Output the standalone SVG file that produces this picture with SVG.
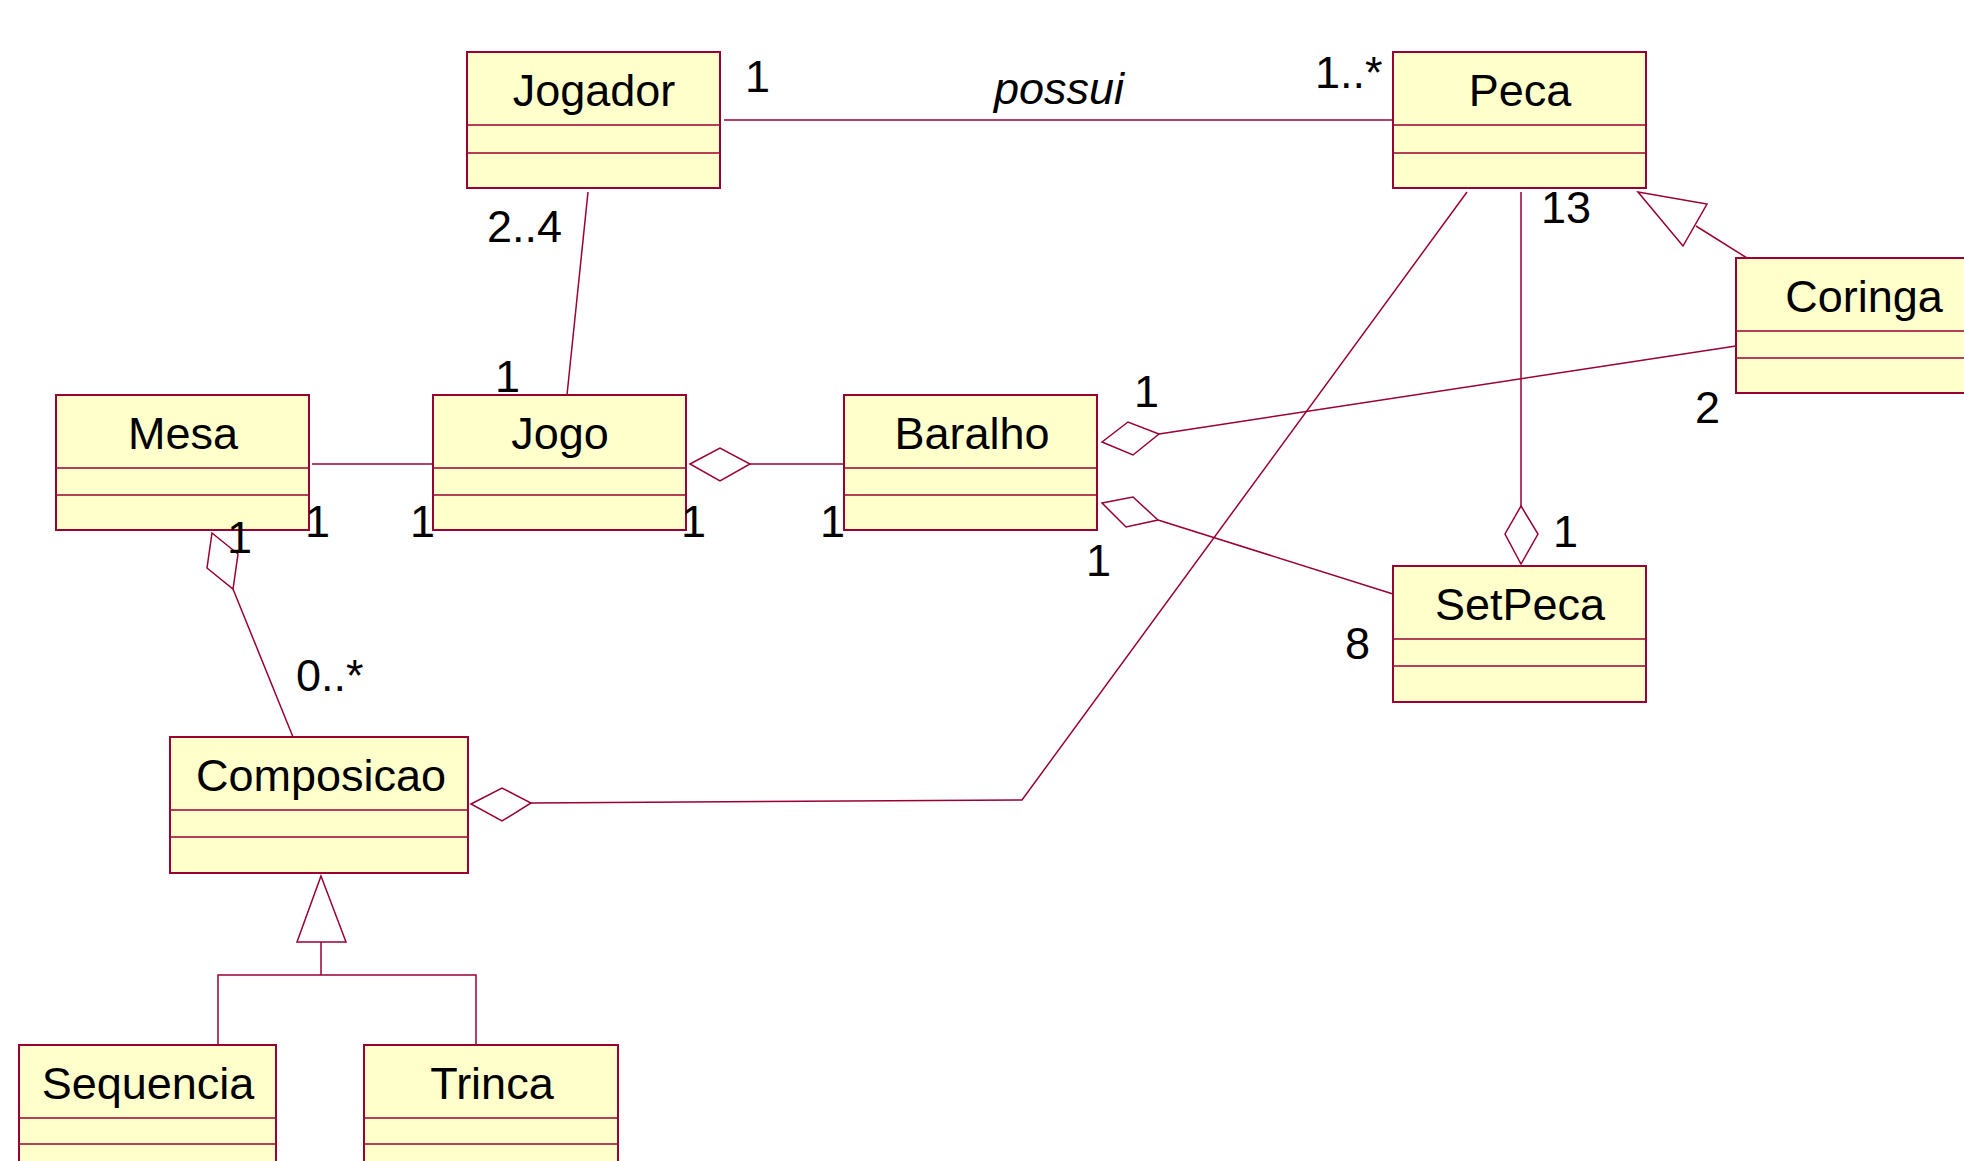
<svg xmlns="http://www.w3.org/2000/svg" width="1964" height="1161" viewBox="0 0 1964 1161">
  <style>
    .box { fill: #ffffcc; stroke: #990033; stroke-width: 2; }
    .sep { stroke: #990033; stroke-width: 1.5; }
    .name { font-family: "Liberation Sans", Arial, sans-serif; font-size: 45px; fill: #000; text-anchor: middle; }
    .mult { font-family: "Liberation Sans", Arial, sans-serif; font-size: 45px; fill: #000; }
    .role { font-family: "Liberation Sans", Arial, sans-serif; font-size: 45px; font-style: italic; fill: #000; }
    .conn { fill: none; stroke: #990033; stroke-width: 1.5; }
    .hollow { fill: #ffffff; stroke: #990033; stroke-width: 1.5; }
  </style>
  <rect width="1964" height="1161" fill="#ffffff"/>

  <!-- class boxes: name / attributes / operations -->
  <g id="Jogador">
    <rect class="box" x="467" y="52" width="253" height="136"/>
    <line class="sep" x1="467" y1="125" x2="720" y2="125"/>
    <line class="sep" x1="467" y1="153" x2="720" y2="153"/>
    <text class="name" x="594" y="106">Jogador</text>
  </g>
  <g id="Peca">
    <rect class="box" x="1393" y="52" width="253" height="136"/>
    <line class="sep" x1="1393" y1="125" x2="1646" y2="125"/>
    <line class="sep" x1="1393" y1="153" x2="1646" y2="153"/>
    <text class="name" x="1520" y="106">Peca</text>
  </g>
  <g id="Coringa">
    <rect class="box" x="1736" y="258" width="256" height="135"/>
    <line class="sep" x1="1736" y1="331" x2="1992" y2="331"/>
    <line class="sep" x1="1736" y1="358" x2="1992" y2="358"/>
    <text class="name" x="1864" y="312">Coringa</text>
  </g>
  <g id="Mesa">
    <rect class="box" x="56" y="395" width="253" height="135"/>
    <line class="sep" x1="56" y1="468" x2="309" y2="468"/>
    <line class="sep" x1="56" y1="495" x2="309" y2="495"/>
    <text class="name" x="183" y="449">Mesa</text>
  </g>
  <g id="Jogo">
    <rect class="box" x="433" y="395" width="253" height="135"/>
    <line class="sep" x1="433" y1="468" x2="686" y2="468"/>
    <line class="sep" x1="433" y1="495" x2="686" y2="495"/>
    <text class="name" x="560" y="449">Jogo</text>
  </g>
  <g id="Baralho">
    <rect class="box" x="844" y="395" width="253" height="135"/>
    <line class="sep" x1="844" y1="468" x2="1097" y2="468"/>
    <line class="sep" x1="844" y1="495" x2="1097" y2="495"/>
    <text class="name" x="972" y="449">Baralho</text>
  </g>
  <g id="SetPeca">
    <rect class="box" x="1393" y="566" width="253" height="136"/>
    <line class="sep" x1="1393" y1="639" x2="1646" y2="639"/>
    <line class="sep" x1="1393" y1="666" x2="1646" y2="666"/>
    <text class="name" x="1520" y="620">SetPeca</text>
  </g>
  <g id="Composicao">
    <rect class="box" x="170" y="737" width="298" height="136"/>
    <line class="sep" x1="170" y1="810" x2="468" y2="810"/>
    <line class="sep" x1="170" y1="837" x2="468" y2="837"/>
    <text class="name" x="321" y="791">Composicao</text>
  </g>
  <g id="Sequencia">
    <rect class="box" x="19" y="1045" width="257" height="136"/>
    <line class="sep" x1="19" y1="1118" x2="276" y2="1118"/>
    <line class="sep" x1="19" y1="1144" x2="276" y2="1144"/>
    <text class="name" x="148" y="1099">Sequencia</text>
  </g>
  <g id="Trinca">
    <rect class="box" x="364" y="1045" width="254" height="136"/>
    <line class="sep" x1="364" y1="1118" x2="618" y2="1118"/>
    <line class="sep" x1="364" y1="1144" x2="618" y2="1144"/>
    <text class="name" x="492" y="1099">Trinca</text>
  </g>

  <!-- associations, aggregations and generalizations -->
  <g id="connectors">
    <!-- Jogador - Peca : possui -->
    <line class="conn" x1="724" y1="120" x2="1393" y2="120"/>
    <!-- Jogador - Jogo -->
    <line class="conn" x1="588" y1="192" x2="567" y2="395"/>
    <!-- Mesa - Jogo -->
    <line class="conn" x1="312" y1="464" x2="433" y2="464"/>
    <!-- Jogo <>- Baralho -->
    <polygon class="hollow" points="690,464 720,448 750,464 720,481"/>
    <line class="conn" x1="750" y1="464" x2="844" y2="464"/>
    <!-- Baralho <>- Coringa -->
    <polygon class="hollow" points="1102,442 1128,422 1159,434 1133,455"/>
    <line class="conn" x1="1159" y1="434" x2="1736" y2="346"/>
    <!-- Baralho <>- SetPeca -->
    <polygon class="hollow" points="1102,503 1133,497 1158,520 1126,527"/>
    <line class="conn" x1="1158" y1="520" x2="1393" y2="594"/>
    <!-- SetPeca <>- Peca -->
    <line class="conn" x1="1521" y1="192" x2="1521" y2="506"/>
    <polygon class="hollow" points="1521,506 1538,534 1521,564 1505,534"/>
    <!-- Composicao <>- Peca -->
    <polyline class="conn" points="1467,192 1022,800 531,803"/>
    <polygon class="hollow" points="471,804 502,788 531,803 502,821"/>
    <!-- Mesa <>- Composicao -->
    <polygon class="hollow" points="212,533 238,554 233,589 207,568"/>
    <line class="conn" x1="233" y1="589" x2="293" y2="737"/>
    <!-- Coringa -|> Peca -->
    <polygon class="hollow" points="1638,192 1707,204 1683,246"/>
    <line class="conn" x1="1696" y1="226" x2="1747" y2="258"/>
    <!-- Sequencia, Trinca -|> Composicao -->
    <polygon class="hollow" points="321,876 346,942 297,942"/>
    <polyline class="conn" points="321,942 321,975"/>
    <polyline class="conn" points="218,1045 218,975 476,975 476,1045"/>
  </g>

  <!-- role name and multiplicities -->
  <g id="labels">
    <text class="role" x="1059" y="104" text-anchor="middle">possui</text>
    <text class="mult" x="745" y="92">1</text>
    <text class="mult" x="1315" y="88">1..*</text>
    <text class="mult" x="487" y="242">2..4</text>
    <text class="mult" x="1541" y="223">13</text>
    <text class="mult" x="1695" y="423">2</text>
    <text class="mult" x="495" y="392">1</text>
    <text class="mult" x="1134" y="407">1</text>
    <text class="mult" x="305" y="537">1</text>
    <text class="mult" x="227" y="553">1</text>
    <text class="mult" x="410" y="537">1</text>
    <text class="mult" x="681" y="537">1</text>
    <text class="mult" x="820" y="537">1</text>
    <text class="mult" x="1086" y="576">1</text>
    <text class="mult" x="1553" y="547">1</text>
    <text class="mult" x="1345" y="659">8</text>
    <text class="mult" x="296" y="691">0..*</text>
  </g>
</svg>
